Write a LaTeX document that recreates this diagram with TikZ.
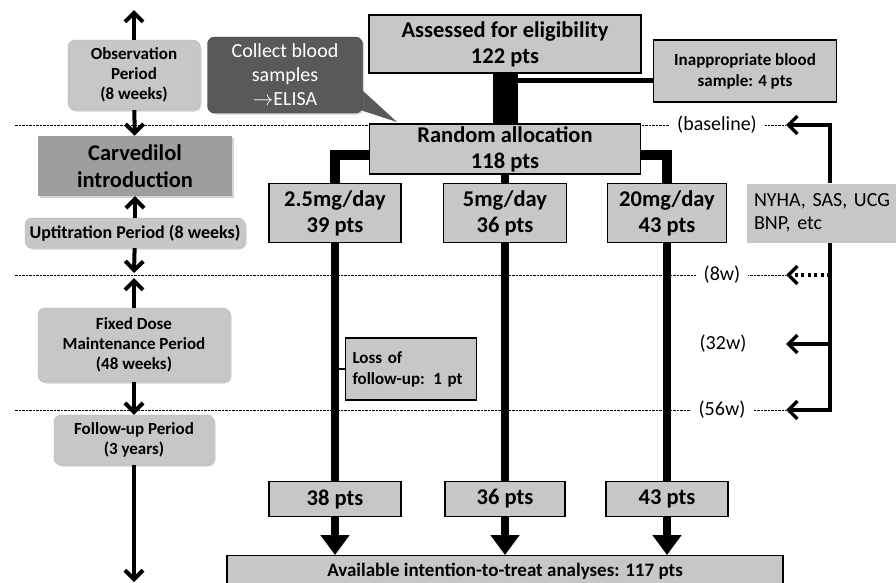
\documentclass[tikz,border=0pt]{standalone}
\usepackage{fontspec}
\setmainfont{Carlito}
\usetikzlibrary{arrows.meta,shadows}

\begin{document}
\begin{tikzpicture}[x=1pt,y=-1pt,
  period/.style={draw=gray!60,fill=black!22,rounded corners=7pt,drop shadow={opacity=0.35,shadow xshift=1.5pt,shadow yshift=-1.5pt},font=\fontsize{17}{20}\selectfont\bfseries,align=center,inner sep=0pt},
  box/.style={draw,line width=1.2pt,fill=black!22,font=\fontsize{22.5}{26}\selectfont\bfseries,align=center,inner sep=0pt},
  smallbox/.style={box,font=\fontsize{17}{21}\selectfont\bfseries},
  tl/.style={line width=4pt,-{Straight Barb[length=9pt,width=18pt]}},
  branch/.style={line width=10pt},
  bigarrow/.style={line width=8pt,-{Triangle[length=20pt,width=28pt]}},
  back/.style={line width=3.5pt,-{Straight Barb[length=9pt,width=18pt]}},
  level/.style={dash pattern=on 2.5pt off 1pt,line width=0.9pt},
  week/.style={fill=white,inner xsep=8pt,inner ysep=1pt,font=\fontsize{20}{22}\selectfont},
]
\clip (0,0) rectangle (896,582);

%levels
\coordinate (l0) at (15,125);
\coordinate (bl) at (786,125);
\coordinate (l8) at (15,275);
\coordinate (r8) at (786,275);
\coordinate (r32) at (786,344);
\coordinate (l56) at (15,410);
\coordinate (r56) at (786,410);
\draw[level] (l0) -- (bl);
\draw[level] (l8) -- (r8);
\draw[level] (l56) -- (r56);

%time line
\coordinate (top) at (134,10);
\coordinate (m8a) at (134,273);
\coordinate (m8b) at (134,278);
\coordinate (end) at (134,582);
\node[period,minimum width=132pt,minimum height=70pt] (obs) at (134,75) {Observation\\Period\\(8 weeks)};
\node[period,rounded corners=0pt,draw=none,fill=black!38,minimum width=194pt,minimum height=60pt,font=\fontsize{22.5}{27}\selectfont\bfseries] (carv) at (135,166) {Carvedilol\\introduction};
\node[period,minimum width=220pt,minimum height=30pt,font=\fontsize{18}{20}\selectfont\bfseries] (upt) at (135,233) {Uptitration Period (8 weeks)};
\node[period,minimum width=192pt,minimum height=74pt] (fix) at (134,345) {Fixed Dose\\Maintenance Period\\(48 weeks)};
\node[period,minimum width=160pt,minimum height=50pt] (fol) at (134,440) {Follow-up Period\\(3 years)};
\draw[tl] (obs) -- (top);
\draw[tl] (obs) -- (carv);
\draw[tl] (upt) -- (carv);
\draw[tl] (upt) -- (m8a);
\draw[tl] (fix) -- (m8b);
\draw[tl] (fix) -- (fol);
\draw[tl] (fol) -- (end);

%blood
\fill[black!65] (345,105) -- (397,122) -- (362,90) -- cycle;
\node[period,fill=black!65,draw=black!75,text=white,font=\fontsize{20}{24}\selectfont,minimum width=155pt,minimum height=76pt] (coll) at (285,75) {Collect blood\\samples\\$\rightarrow$ELISA};

%allocation
\node[box,minimum width=272pt,minimum height=58pt] (asse) at (505,44) {Assessed for eligibility\\122 pts};
\node[box,minimum width=271pt,minimum height=50pt] (rand) at (505,149) {Random allocation\\118 pts};
\node[smallbox,minimum width=183pt,minimum height=62pt] (inap) at (745,71) {Inappropriate blood\\sample: 4 pts};
\draw[line width=25pt] (asse) -- (rand);
\draw[line width=5pt] (asse.south |- 0,80) -- (inap.west |- 0,80);

%doses
\node[box,minimum width=132pt,minimum height=59pt] (d1) at (335,213) {2.5mg/day\\39 pts};
\node[box,minimum width=123pt,minimum height=59pt] (d2) at (505,213) {5mg/day\\36 pts};
\node[box,minimum width=119pt,minimum height=59pt] (d3) at (667,213) {20mg/day\\43 pts};
\draw[branch] (rand.west |- 0,155) -| (d1.north);
\draw[line width=8pt] (rand) -- (d2);
\draw[branch] (rand.east |- 0,155) -| (d3.north);

%end
\node[box,minimum width=132pt,minimum height=35pt] (e1) at (335,499) {38 pts};
\node[box,minimum width=120pt,minimum height=35pt] (e2) at (505,499) {36 pts};
\node[box,minimum width=122pt,minimum height=35pt] (e3) at (667,499) {43 pts};
\node[box,minimum width=556pt,minimum height=32pt,anchor=north,font=\fontsize{19}{22}\selectfont\bfseries] (avai) at (505,555) {Available intention-to-treat analyses: 117 pts};
\draw[line width=8pt] (d1) -- (e1);
\draw[line width=8pt] (d2) -- (e2);
\draw[line width=8pt] (d3) -- (e3);
\draw[bigarrow] (e1) -- (e1.south |- avai.north);
\draw[bigarrow] (e2) -- (e2.south |- avai.north);
\draw[bigarrow] (e3) -- (e3.south |- avai.north);

%loss
\node[smallbox,minimum width=131pt,minimum height=62pt,align=left,text width=117pt] (loss) at (411,369) {Loss of\\follow-up: 1 pt};
\draw[line width=2.5pt] (d1.south |- loss.west) -- (loss.west);

%exams
\node[box,draw=none,font=\fontsize{20}{23}\selectfont,align=left,text width=152pt,minimum width=166pt,minimum height=59pt] (nyha) at (830,213) {NYHA, SAS, UCG\\BNP, etc};
\node[week] (w0) at (717,125) {(baseline)};
\node[week] (w8) at (722,275) {(8w)};
\node[week] (w32) at (723,344) {(32w)};
\node[week] (w56) at (722,410) {(56w)};
\draw[back] (nyha.north) |- (bl);
\draw[back] (nyha.south) |- (r56);
\draw[back] (nyha.south |- r32) -- (r32);
\draw[back,dash pattern=on 3pt off 3.5pt] (nyha.south |- r8) -- (r8);

\end{tikzpicture}
\end{document}
